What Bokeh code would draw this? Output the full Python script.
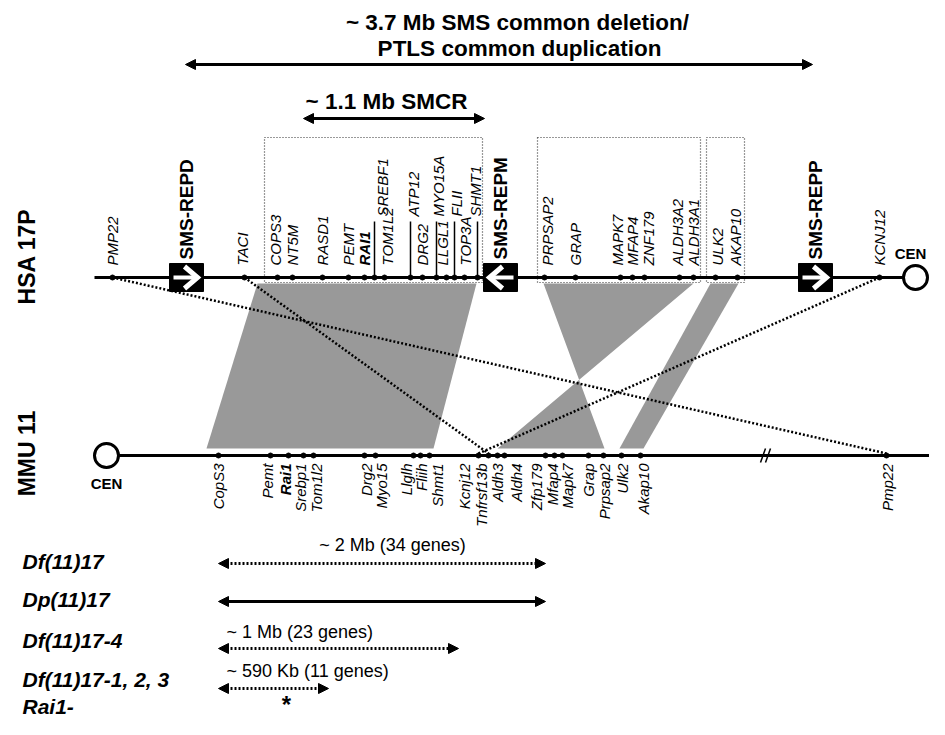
from bokeh.plotting import figure
from bokeh.models import Range1d, Arrow, NormalHead
from bokeh.core.properties import value
from bokeh.embed import file_html
from bokeh.resources import INLINE
import math

FONT = "Liberation Sans"

# ---------------- data ----------------
hsa_genes = ["PMP22", "TACI", "COPS3", "NT5M", "RASD1", "PEMT", "RAI1", "SREBF1", "TOM1L2",
             "ATP12", "DRG2", "MYO15A", "LLGL1", "FLII", "TOP3A", "SHMT1", "PRPSAP2", "GRAP",
             "MAPK7", "MFAP4", "ZNF179", "ALDH3A2", "ALDH3A1", "ULK2", "AKAP10", "KCNJ12"]
hsa_pos = [112, 244, 277, 292, 322, 348, 364, 374, 384, 410, 422, 436, 446, 454, 464, 477,
           544, 575, 620, 632, 644, 679, 693, 715, 737, 879]
hsa_raised = ["SREBF1", "ATP12", "MYO15A", "FLII", "SHMT1"]
hsa_bold = ["RAI1"]

mmu_genes = ["CopS3", "Pemt", "Rai1", "Srebp1", "Tom1l2", "Drg2", "Myo15", "Llglh", "Fliih",
             "Shmt1", "Kcnj12", "Tnfrsf13b", "Aldh3", "Aldh4", "Zfp179", "Mfap4", "Mapk7",
             "Grap", "Prpsap2", "Ulk2", "Akap10", "Pmp22"]
mmu_pos = [218, 270, 288, 303, 313, 364, 375, 413, 420, 429, 478, 488, 497, 504, 545, 554,
           562, 588, 603, 621, 640, 886]
mmu_bold = ["Rai1"]

# conserved synteny blocks (HSA start/end -> MMU start/end)
blk_hsa_start = [257, 543, 710]
blk_hsa_end = [476, 693, 738]
blk_mmu_start = [206, 604, 619]
blk_mmu_end = [433, 497, 643]

# single-gene links (HSA -> MMU)
link_hsa = [112, 244, 879]
link_mmu = [886, 488, 478]

# dotted gene groups on HSA
grp_start = [264, 537, 706]
grp_end = [482, 700, 744]

# LCR repeats on HSA
rep_names = ["SMS-REPD", "SMS-REPM", "SMS-REPP"]
rep_pos = [186, 500, 815]
rep_dir = [1, -1, 1]

# deletion / duplication spans
span_title = ["~ 3.7 Mb SMS common deletion/", "PTLS common duplication"]
span_smcr = "~ 1.1 Mb SMCR"
span_start = [185, 303]
span_end = [812, 484]

mouse_models = ["Df(11)17", "Dp(11)17", "Df(11)17-4", "Df(11)17-1, 2, 3", "Rai1-"]
model_start = [218, 218, 218, 218, None]
model_end = [545, 545, 458, 328, None]
model_note = ["~ 2 Mb (34 genes)", "", "~ 1 Mb (23 genes)", "~ 590 Kb (11 genes)", ""]
model_solid = [False, True, False, False, False]
rai1_mark_pos = 288

# ---------------- layout ----------------
Y_HSA = 277
Y_MMU = 455
Y_BLK_TOP = 283
Y_BLK_BOT = 448

p = figure(width=929, height=719, x_range=Range1d(0, 929), y_range=Range1d(719, 0),
           output_backend="svg", toolbar_location=None, min_border=0,
           x_axis_type=None, y_axis_type=None)
p.grid.visible = False
p.outline_line_color = None
p.background_fill_color = "white"


def txt(x, y, s, size, style="normal", angle=0.0, align="center", baseline="middle"):
    p.text(x=[x], y=[y], text=[s], angle=angle, text_font=value(FONT),
           text_font_size=f"{size}px", text_font_style=style, text_align=align,
           text_baseline=baseline, text_color="black")


def dbl_arrow(x0, x1, y, dash="solid", w=3, size=10):
    p.add_layout(Arrow(start=NormalHead(size=size, fill_color="black", line_color="black"),
                       end=NormalHead(size=size, fill_color="black", line_color="black"),
                       x_start=x0, y_start=y, x_end=x1, y_end=y,
                       line_width=w, line_dash=dash, line_color="black"))


# synteny blocks
xs, ys = [], []
for hs, he, ms, me in zip(blk_hsa_start, blk_hsa_end, blk_mmu_start, blk_mmu_end):
    xs.append([hs, he, me, ms])
    ys.append([Y_BLK_TOP, Y_BLK_TOP, Y_BLK_BOT, Y_BLK_BOT])
p.patches(xs, ys, fill_color="#999999", line_color=None)

# group boxes
for a, b in zip(grp_start, grp_end):
    p.line([a, b, b, a, a], [137, 137, 282, 282, 137], line_color="#333333",
           line_width=1.2, line_dash="1 2")

# links
p.segment(x0=link_hsa, y0=[Y_HSA] * 3, x1=link_mmu, y1=[Y_MMU - 2] * 3,
          line_color="black", line_width=2.5, line_dash="2 2")

# chromosomes
p.segment(x0=[94], y0=[Y_HSA], x1=[905], y1=[Y_HSA], line_color="black", line_width=3)
p.segment(x0=[118], y0=[Y_MMU], x1=[929], y1=[Y_MMU], line_color="black", line_width=3)
p.scatter(x=[915, 106], y=[Y_HSA, Y_MMU], size=24, marker="circle",
          fill_color="white", line_color="black", line_width=3)
txt(910, 253, "CEN", 15, "bold")
txt(106, 483, "CEN", 15, "bold")
# break mark
p.segment(x0=[760, 765], y0=[462, 462], x1=[765, 770], y1=[448, 448],
          line_color="black", line_width=1.5)

# repeats
for name, x, d in zip(rep_names, rep_pos, rep_dir):
    p.rect(x=[x], y=[Y_HSA], width=34, height=28, fill_color="black", line_color="black")
    p.segment(x0=[x - 13 * d], y0=[Y_HSA], x1=[x + 8 * d], y1=[Y_HSA],
              line_color="white", line_width=4)
    p.line([x - 2 * d, x + 11 * d, x - 2 * d], [Y_HSA - 11, Y_HSA, Y_HSA + 11],
           line_color="white", line_width=5, line_join="miter")
    txt(x, 259, name, 19, "bold", math.pi / 2, "left")

# HSA genes
hsa_lab_shift = {"COPS3": -2, "TOM1L2": 3, "LLGL1": -4, "TOP3A": 1, "SREBF1": 8, "ATP12": 3,
                 "MYO15A": 2, "FLII": 2, "SHMT1": -2, "PRPSAP2": 3, "MAPK7": -3,
                 "ZNF179": 4, "ALDH3A2": -2, "ULK2": 2, "AKAP10": -2, "TACI": -2}
for g, x in zip(hsa_genes, hsa_pos):
    lx = x + hsa_lab_shift.get(g, 0)
    style = "bold italic" if g in hsa_bold else "italic"
    if g in hsa_raised:
        p.segment(x0=[x], y0=[Y_HSA], x1=[x], y1=[221], line_color="black", line_width=1.5)
        txt(lx, 216, g, 15, style, math.pi / 2, "left")
    else:
        txt(lx, 265, g, 15, style, math.pi / 2, "left")
p.scatter(x=hsa_pos, y=[Y_HSA] * len(hsa_pos), size=5, color="black")

# MMU genes
mmu_lab_shift = {"Pemt": -3, "Rai1": -3, "Srebp1": -3, "Tom1l2": 3, "Drg2": 2, "Myo15": 6,
                 "Llglh": -7, "Fliih": 1, "Shmt1": 8, "Kcnj12": -14, "Tnfrsf13b": -7,
                 "Aldh4": 12, "Zfp179": -9, "Mfap4": -2, "Mapk7": 5, "Prpsap2": 1,
                 "Ulk2": 1, "Akap10": 3, "Pmp22": 1}
for g, x in zip(mmu_genes, mmu_pos):
    lx = x + mmu_lab_shift.get(g, 0)
    style = "bold italic" if g in mmu_bold else "italic"
    txt(lx, 463, g, 15, style, math.pi / 2, "right")
p.scatter(x=mmu_pos, y=[Y_MMU] * len(mmu_pos), size=5, color="black")

# chromosome names
txt(26, 256, "HSA 17P", 23, "bold", math.pi / 2)
txt(26, 453, "MMU 11", 23, "bold", math.pi / 2)

# top spans
txt(517, 22, span_title[0], 22.5, "bold")
txt(519, 48, span_title[1], 22.5, "bold")
dbl_arrow(span_start[0], span_end[0], 64)
txt(386, 101, span_smcr, 22.5, "bold")
dbl_arrow(span_start[1], span_end[1], 118)

# mouse models
model_y = [561, 599, 640, 679, 706]
arrow_y = [563, 601, 648, 688, 0]
note_y = [544, 0, 631, 670, 0]
for name, a, b, note, solid, y, ay, ny in zip(mouse_models, model_start, model_end, model_note,
                                              model_solid, model_y, arrow_y, note_y):
    txt(22, y, name, 21, "bold italic", 0, "left")
    if a is not None:
        dbl_arrow(a, b, ay, "solid" if solid else "2 2", 3, 10)
    if note:
        if name == "Df(11)17":
            txt(392, ny, note, 18, "normal", 0, "center")
        else:
            txt(226, ny, note, 18, "normal", 0, "left")
txt(rai1_mark_pos - 2, 704, "*", 24, "bold")

open("out.html", "w").write(file_html(p, INLINE))
